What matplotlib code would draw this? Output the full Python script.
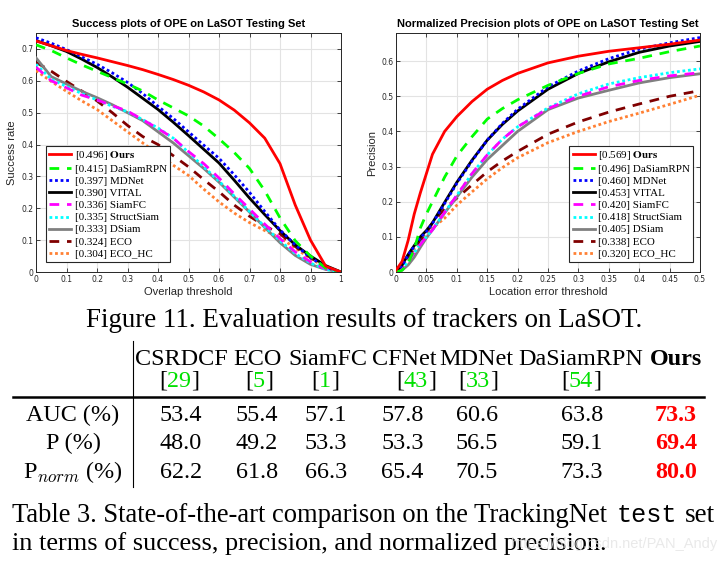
import matplotlib
matplotlib.use('Agg')
import matplotlib.pyplot as plt
from matplotlib.font_manager import FontProperties
import numpy as np

# =============================================================================
# DATA
# =============================================================================

trackers = ['Ours', 'DaSiamRPN', 'MDNet', 'VITAL', 'SiamFC',
            'StructSiam', 'DSiam', 'ECO', 'ECO_HC']
succ_auc = ['0.496', '0.415', '0.397', '0.390', '0.336',
            '0.335', '0.333', '0.324', '0.304']
prec_auc = ['0.569', '0.496', '0.460', '0.453', '0.420',
            '0.418', '0.405', '0.338', '0.320']

# success plot (overlap threshold)
succ_x = [0, 0.05, 0.1, 0.15, 0.2, 0.25, 0.3, 0.35, 0.4, 0.45, 0.5,
          0.55, 0.6, 0.65, 0.7, 0.75, 0.8, 0.85, 0.9, 0.95, 1.0]
succ_ours = [0.725, 0.71, 0.695, 0.683, 0.672, 0.66, 0.648, 0.635, 0.62, 0.604, 0.586,
             0.565, 0.54, 0.508, 0.468, 0.42, 0.34, 0.21, 0.10, 0.018, 0.0]
succ_dasiam = [0.713, 0.695, 0.672, 0.65, 0.63, 0.61, 0.59, 0.568, 0.54, 0.515, 0.49,
               0.458, 0.418, 0.375, 0.325, 0.255, 0.17, 0.098, 0.05, 0.012, 0.0]
succ_mdnet = [0.735, 0.718, 0.698, 0.675, 0.652, 0.625, 0.595, 0.56, 0.52, 0.482, 0.44,
              0.398, 0.357, 0.305, 0.25, 0.19, 0.132, 0.085, 0.045, 0.015, 0.0]
succ_vital = [0.726, 0.71, 0.692, 0.668, 0.642, 0.612, 0.58, 0.545, 0.51, 0.47, 0.428,
              0.385, 0.342, 0.288, 0.232, 0.18, 0.13, 0.085, 0.05, 0.02, 0.0]
succ_siamfc = [0.643, 0.6, 0.578, 0.555, 0.54, 0.522, 0.505, 0.478, 0.45, 0.42, 0.378,
               0.34, 0.295, 0.245, 0.198, 0.15, 0.105, 0.063, 0.032, 0.01, 0.0]
succ_struct = [0.652, 0.605, 0.582, 0.56, 0.54, 0.52, 0.503, 0.478, 0.452, 0.42, 0.375,
               0.33, 0.285, 0.238, 0.19, 0.142, 0.098, 0.058, 0.028, 0.008, 0.0]
succ_dsiam = [0.672, 0.613, 0.59, 0.567, 0.547, 0.525, 0.5, 0.475, 0.44, 0.405, 0.365,
              0.325, 0.282, 0.235, 0.188, 0.14, 0.092, 0.052, 0.024, 0.008, 0.0]
succ_eco = [0.658, 0.63, 0.598, 0.568, 0.537, 0.5, 0.46, 0.425, 0.4, 0.365, 0.33,
            0.29, 0.252, 0.21, 0.175, 0.145, 0.12, 0.08, 0.045, 0.015, 0.0]
succ_echc = [0.632, 0.598, 0.567, 0.537, 0.51, 0.475, 0.44, 0.405, 0.37, 0.335, 0.303,
             0.26, 0.22, 0.185, 0.155, 0.13, 0.108, 0.075, 0.042, 0.015, 0.0]

# normalized precision plot (location error threshold)
prec_x = [0, 0.01, 0.02, 0.03, 0.04, 0.05, 0.06, 0.08, 0.1, 0.125, 0.15,
          0.175, 0.2, 0.25, 0.3, 0.35, 0.4, 0.45, 0.5]
prec_ours = [0.005, 0.03, 0.09, 0.165, 0.225, 0.28, 0.335, 0.40, 0.442, 0.485, 0.52,
             0.545, 0.565, 0.595, 0.614, 0.628, 0.638, 0.648, 0.66]
prec_dasiam = [0.0, 0.005, 0.025, 0.065, 0.125, 0.165, 0.2, 0.27, 0.33, 0.385, 0.435,
               0.465, 0.49, 0.531, 0.565, 0.592, 0.608, 0.627, 0.643]
prec_mdnet = [0.0, 0.018, 0.048, 0.073, 0.097, 0.115, 0.138, 0.195, 0.252, 0.316, 0.375,
              0.423, 0.463, 0.527, 0.572, 0.607, 0.634, 0.652, 0.667]
prec_vital = [0.0, 0.02, 0.05, 0.075, 0.1, 0.118, 0.14, 0.198, 0.255, 0.318, 0.375,
              0.42, 0.458, 0.52, 0.565, 0.598, 0.625, 0.643, 0.656]
prec_siamfc = [0.0, 0.01, 0.03, 0.055, 0.078, 0.1, 0.12, 0.17, 0.218, 0.28, 0.333,
               0.378, 0.413, 0.465, 0.5, 0.527, 0.545, 0.558, 0.567]
prec_struct = [0.0, 0.01, 0.03, 0.055, 0.08, 0.1, 0.12, 0.17, 0.218, 0.28, 0.333,
               0.378, 0.413, 0.467, 0.507, 0.535, 0.553, 0.567, 0.578]
prec_dsiam = [0.0, 0.005, 0.02, 0.042, 0.07, 0.097, 0.12, 0.168, 0.213, 0.27, 0.32,
              0.36, 0.40, 0.462, 0.495, 0.517, 0.538, 0.553, 0.564]
prec_eco = [0.0, 0.015, 0.04, 0.065, 0.09, 0.11, 0.14, 0.18, 0.21, 0.248, 0.285,
            0.316, 0.343, 0.392, 0.427, 0.455, 0.478, 0.5, 0.516]
prec_echc = [0.0, 0.015, 0.04, 0.065, 0.09, 0.108, 0.125, 0.153, 0.19, 0.228, 0.265,
             0.297, 0.325, 0.368, 0.4, 0.428, 0.452, 0.477, 0.503]

succ_xticklabels = ['0', '0.1', '0.2', '0.3', '0.4', '0.5', '0.6', '0.7', '0.8', '0.9', '1']
succ_yticklabels = ['0', '0.1', '0.2', '0.3', '0.4', '0.5', '0.6', '0.7']
prec_xticklabels = ['0', '0.05', '0.1', '0.15', '0.2', '0.25', '0.3', '0.35', '0.4', '0.45', '0.5']
prec_yticklabels = ['0', '0.1', '0.2', '0.3', '0.4', '0.5', '0.6']

# table
tab_methods = ['CSRDCF', 'ECO', 'SiamFC', 'CFNet', 'MDNet', 'DaSiamRPN', 'Ours']
tab_refs = ['29', '5', '1', '43', '33', '54', '']
tab_rows = ['AUC (%)', 'P (%)', 'P$_{norm}$ (%)']
tab_auc = ['53.4', '55.4', '57.1', '57.8', '60.6', '63.8', '73.3']
tab_p = ['48.0', '49.2', '53.3', '53.3', '56.5', '59.1', '69.4']
tab_pnorm = ['62.2', '61.8', '66.3', '65.4', '70.5', '73.3', '80.0']

# =============================================================================
# STYLE
# =============================================================================

colors = ['#ff0000', '#00ff00', '#0000ff', '#000000', '#ff00ff',
          '#00ffff', '#808080', '#800000', '#ff8033']
styles = ['-', 'dash', 'dot', '-', 'dash', 'dot', '-', 'dash', 'dot']

W, H = 727., 561.
fig = plt.figure(figsize=(7.27, 5.61), dpi=100)
renderer = fig.canvas.get_renderer()


def fx(px):
    return px/W


def fy(py):
    return 1 - py/H


def draw_plot(ax, x, series, scores, xticks, xlabels, yticks, ylabels,
              xlim, ylim, title, xlabel, ylabel, legloc, anchor):
    handles = []
    for i, ys in enumerate(series):
        ln, = ax.plot(x, ys, color=colors[i], lw=2.0, zorder=20-i)
        if styles[i] == 'dash':
            ln.set_dashes((3.5, 2.8))
        elif styles[i] == 'dot':
            ln.set_dashes((1.0, 1.0))
        if i == 0:
            ln.set_label(r'[%s] $\mathbf{%s}$' % (scores[i], trackers[i]))
        else:
            ln.set_label('[%s] %s' % (scores[i], trackers[i]))
        handles.append(ln)
    ax.set_xlim(xlim)
    ax.set_ylim(ylim)
    ax.set_xticks(xticks)
    ax.set_xticklabels(xlabels)
    ax.set_yticks(yticks)
    ax.set_yticklabels(ylabels)
    ax.grid(True, color='#e3e3e3', lw=0.8)
    ax.set_axisbelow(True)
    ax.tick_params(direction='in', top=True, right=True, length=3, width=0.6,
                   labelsize=5.5, pad=2, colors='#262626')
    for sp in ax.spines.values():
        sp.set_color('#262626')
        sp.set_linewidth(0.7)
    ax.set_title(title, fontsize=8, fontweight='bold', pad=4, family='Liberation Sans')
    ax.set_xlabel(xlabel, fontsize=8, labelpad=2, family='Liberation Sans', color='#262626')
    ax.set_ylabel(ylabel, fontsize=8, labelpad=3, family='Liberation Sans', color='#262626')
    prop = FontProperties(family='Liberation Serif', size=7.9, math_fontfamily='stix')
    leg = ax.legend(handles=handles, loc=legloc, bbox_to_anchor=anchor, prop=prop,
                    frameon=True, fancybox=False, borderaxespad=0, borderpad=0.3,
                    labelspacing=0.22, handlelength=2.0, handletextpad=0.3)
    leg.get_frame().set_edgecolor('#262626')
    leg.get_frame().set_linewidth(0.8)
    leg.get_frame().set_alpha(1)
    leg.set_zorder(50)


ax1 = fig.add_axes([fx(36), fy(272), 305/W, 239/H])
draw_plot(ax1, succ_x,
          [succ_ours, succ_dasiam, succ_mdnet, succ_vital, succ_siamfc,
           succ_struct, succ_dsiam, succ_eco, succ_echc],
          succ_auc, np.arange(0, 1.01, 0.1), succ_xticklabels,
          np.arange(0, 0.71, 0.1), succ_yticklabels, (0, 1), (0, 0.75),
          'Success plots of OPE on LaSOT Testing Set', 'Overlap threshold',
          'Success rate', 'lower left', (0.033, 0.042))

ax2 = fig.add_axes([fx(396), fy(272), 304/W, 239/H])
draw_plot(ax2, prec_x,
          [prec_ours, prec_dasiam, prec_mdnet, prec_vital, prec_siamfc,
           prec_struct, prec_dsiam, prec_eco, prec_echc],
          prec_auc, np.arange(0, 0.501, 0.05), prec_xticklabels,
          np.arange(0, 0.61, 0.1), prec_yticklabels, (0, 0.5), (0, 0.68),
          'Normalized Precision plots of OPE on LaSOT Testing Set',
          'Location error threshold', 'Precision', 'lower right', (0.977, 0.042))

# =============================================================================
# CAPTION AND TABLE
# =============================================================================

serif = 'Liberation Serif'
cap_fs = 19.5
tab_fs = 17.4
green = '#00e000'


def fit_text(x0, x1, y, s, **kw):
    # left-aligned text, font size scaled so that it spans x0..x1 pixels
    t = fig.text(fx(x0), fy(y), s, ha='left', va='baseline', **kw)
    w = t.get_window_extent(renderer).width
    t.set_fontsize(t.get_fontsize()*(x1 - x0)/w)
    return t


fit_text(86, 643, 327, 'Figure 11. Evaluation results of trackers on LaSOT.',
         family=serif, fontsize=cap_fs)

head_x = [181, 257, 328, 404, 476, 581, 676]
ref_x = [179, 259, 325, 416, 478, 581, 0]
val_x = [181, 257, 326, 402.5, 477, 582, 676]
row_y = [421, 449, 478]

for j, m in enumerate(tab_methods):
    fig.text(fx(head_x[j]), fy(365), m, family=serif, fontsize=tab_fs,
             ha='center', va='baseline', fontweight='bold' if m == 'Ours' else 'normal')
    if tab_refs[j]:
        parts = [('[', 'black'), (tab_refs[j], green), (']', 'black')]
        tt = [fig.text(0, fy(387), p, family=serif, fontsize=tab_fs, color=c,
                       va='baseline') for p, c in parts]
        widths = [t.get_window_extent(renderer).width for t in tt]
        x0 = ref_x[j] - sum(widths)/2
        for t, w in zip(tt, widths):
            t.set_x(fx(x0))
            x0 += w

for i, (lab, vals) in enumerate(zip(tab_rows, [tab_auc, tab_p, tab_pnorm])):
    fig.text(fx(73), fy(row_y[i]), lab, family=serif, fontsize=tab_fs,
             ha='center', va='baseline', math_fontfamily='cm')
    for j, v in enumerate(vals):
        last = j == len(vals) - 1
        fig.text(fx(val_x[j]), fy(row_y[i]), v, family=serif, fontsize=tab_fs,
                 ha='center', va='baseline',
                 color='#ff0000' if last else 'black',
                 fontweight='bold' if last else 'normal')

fig.add_artist(plt.Line2D([fx(13), fx(704)], [fy(397), fy(397)], color='black', lw=1.8))
fig.add_artist(plt.Line2D([fx(133), fx(133)], [fy(341), fy(487)], color='black', lw=0.8))

fit_text(12, 608, 522, 'Table 3. State-of-the-art comparison on the TrackingNet',
         family=serif, fontsize=cap_fs)
fig.text(fx(617), fy(522), 'test', family='Liberation Mono', fontsize=cap_fs*0.93,
         ha='left', va='baseline')
fig.text(fx(715), fy(522), 'set', family=serif, fontsize=cap_fs, ha='right', va='baseline')
fit_text(12, 605, 550, 'in terms of success, precision, and normalized precision.',
         family=serif, fontsize=cap_fs)
fig.text(fx(717), fy(548), 'https://blog.csdn.net/PAN_Andy', family='Liberation Sans',
         fontsize=10.5, ha='right', va='baseline', color='#e4e4e4', alpha=0.8)

fig.savefig('out.png', dpi=100)
